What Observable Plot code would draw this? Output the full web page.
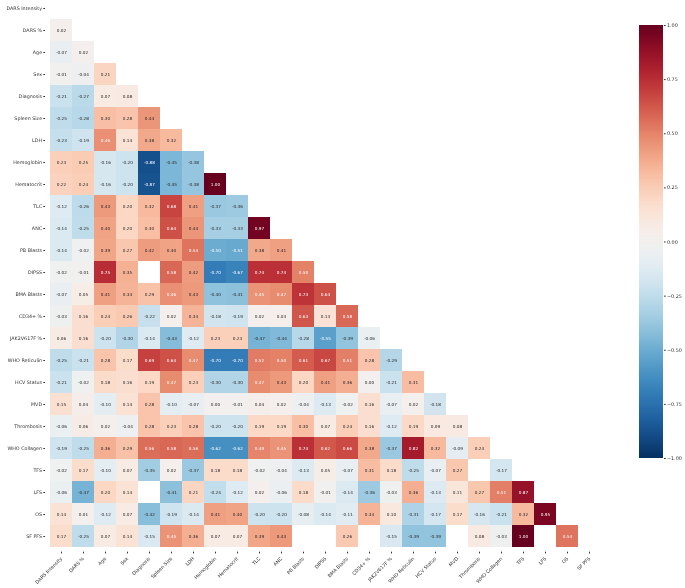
<!DOCTYPE html>
<html>
<head>
<meta charset="utf-8">
<script src="https://cdn.jsdelivr.net/npm/d3@7"></script>
<script src="https://cdn.jsdelivr.net/npm/@observablehq/plot@0.6"></script>
<style>
  html, body { margin: 0; padding: 0; background: #fff; }
  #wrap { position: relative; width: 685px; height: 588px; overflow: hidden; font-family: "DejaVu Sans", sans-serif; }
  #main { position: absolute; left: 0; top: 0; will-change: transform; }
  #cbar { position: absolute; left: 600px; top: 0; will-change: transform; }
  svg { overflow: visible; }
</style>
</head>
<body>
<div id="wrap"><div id="main"></div><div id="cbar"></div></div>
<script>
// Variable names (rows and columns of the correlation matrix)
const labels = ["DARS Intensity","DARS %","Age","Sex","Diagnosis","Spleen Size","LDH","Hemoglobin","Hematocrit","TLC","ANC","PB Blasts","DIPSS","BMA Blasts","CD34+ %","JAK2V617F %","WHO Reticulin","HCV Status","MVD","Thrombosis","WHO Collagen","TFS","LFS","OS","SF PFS"];

// Lower-triangle correlations, one array per row (null = blank cell)
const rowDARSpct      = [0.02];
const rowAge          = [-0.07, 0.02];
const rowSex          = [-0.01, -0.04, 0.21];
const rowDiagnosis    = [-0.21, -0.27, 0.07, 0.08];
const rowSpleen       = [-0.25, -0.28, 0.30, 0.28, 0.44];
const rowLDH          = [-0.23, -0.19, 0.46, 0.14, 0.38, 0.32];
const rowHemoglobin   = [0.23, 0.25, -0.16, -0.20, -0.88, -0.45, -0.38];
const rowHematocrit   = [0.22, 0.24, -0.16, -0.20, -0.87, -0.45, -0.38, 1.00];
const rowTLC          = [-0.12, -0.26, 0.43, 0.20, 0.32, 0.68, 0.41, -0.37, -0.36];
const rowANC          = [-0.14, -0.25, 0.40, 0.20, 0.30, 0.64, 0.44, -0.33, -0.33, 0.97];
const rowPBBlasts     = [-0.14, -0.02, 0.39, 0.27, 0.42, 0.40, 0.54, -0.50, -0.51, 0.38, 0.41];
const rowDIPSS        = [-0.02, -0.01, 0.75, 0.35, null, 0.58, 0.42, -0.70, -0.67, 0.74, 0.74, 0.50];
const rowBMABlasts    = [-0.07, 0.05, 0.41, 0.34, 0.29, 0.46, 0.43, -0.40, -0.41, 0.45, 0.47, 0.73, 0.64];
const rowCD34         = [-0.03, 0.16, 0.24, 0.26, -0.22, 0.02, 0.34, -0.18, -0.19, 0.02, 0.03, 0.63, 0.13, 0.58];
const rowJAK2         = [0.06, 0.16, -0.20, -0.30, -0.14, -0.43, -0.12, 0.23, 0.23, -0.47, -0.44, -0.28, -0.55, -0.39, -0.06];
const rowWHORet       = [-0.25, -0.21, 0.28, 0.17, 0.69, 0.64, 0.47, -0.70, -0.70, 0.52, 0.50, 0.61, 0.67, 0.51, 0.28, -0.29];
const rowHCV          = [-0.21, -0.02, 0.18, 0.16, 0.19, 0.47, 0.23, -0.30, -0.30, 0.47, 0.43, 0.20, 0.41, 0.36, 0.00, -0.21, 0.31];
const rowMVD          = [0.15, 0.04, -0.10, 0.14, 0.28, -0.10, -0.07, 0.00, -0.01, 0.04, 0.02, -0.04, -0.13, -0.02, 0.16, -0.07, 0.02, -0.18];
const rowThrombosis   = [-0.06, 0.06, 0.02, -0.04, 0.28, 0.23, 0.28, -0.20, -0.20, 0.19, 0.19, 0.30, 0.07, 0.24, 0.16, -0.12, 0.19, 0.09, 0.08];
const rowWHOColl      = [-0.19, -0.25, 0.36, 0.29, 0.56, 0.58, 0.56, -0.62, -0.62, 0.49, 0.45, 0.74, 0.62, 0.66, 0.38, -0.37, 0.82, 0.32, -0.09, 0.24];
const rowTFS          = [-0.02, 0.17, -0.10, 0.07, -0.35, 0.02, -0.37, 0.18, 0.18, -0.02, -0.04, -0.13, 0.05, -0.07, 0.31, 0.18, -0.25, -0.07, 0.27, null, -0.17];
const rowLFS          = [-0.06, -0.47, 0.20, 0.14, null, -0.41, 0.21, -0.24, -0.12, 0.02, -0.06, 0.18, -0.01, -0.14, -0.36, -0.03, 0.36, -0.13, 0.11, 0.27, 0.51, 0.87];
const rowOS           = [0.14, 0.01, -0.12, 0.07, -0.42, -0.19, -0.14, 0.41, 0.40, -0.20, -0.20, -0.08, -0.14, -0.11, 0.34, 0.10, -0.31, -0.17, 0.17, -0.16, -0.21, 0.32, 0.95];
const rowSFPFS        = [0.17, -0.25, 0.07, 0.14, -0.15, 0.45, 0.36, 0.07, 0.07, 0.39, 0.43, null, null, 0.26, null, -0.15, -0.39, -0.39, null, 0.08, -0.03, 1.00, null, 0.54];

// Colorbar tick values
const cbarTicks = [-1, -0.75, -0.5, -0.25, 0, 0.25, 0.5, 0.75, 1];

const rows = [rowDARSpct,rowAge,rowSex,rowDiagnosis,rowSpleen,rowLDH,rowHemoglobin,rowHematocrit,rowTLC,rowANC,rowPBBlasts,rowDIPSS,rowBMABlasts,rowCD34,rowJAK2,rowWHORet,rowHCV,rowMVD,rowThrombosis,rowWHOColl,rowTFS,rowLFS,rowOS,rowSFPFS];

const cells = [];
rows.forEach((vals, i) => vals.forEach((v, j) => {
  if (v !== null) cells.push({row: labels[i + 1], col: labels[j], v});
}));

const colorOpts = {type: "linear", domain: [-1, 1], scheme: "rdbu", reverse: true};
const colorScale = Plot.scale({color: colorOpts});

function relLum(c) {
  const rgb = d3.rgb(c);
  const lin = x => { x /= 255; return x <= 0.03928 ? x / 12.92 : Math.pow((x + 0.055) / 1.055, 2.4); };
  return 0.2126 * lin(rgb.r) + 0.7152 * lin(rgb.g) + 0.0722 * lin(rgb.b);
}
const textColor = d => relLum(colorScale.apply(d.v)) > 0.408 ? "#262626" : "#ffffff";

const W = 685, H = 588;
const chart = Plot.plot({
  width: W,
  height: H,
  marginLeft: 45,
  marginRight: 80,
  marginTop: 0,
  marginBottom: 36.3,
  style: {fontFamily: "DejaVu Sans, sans-serif", background: "transparent", overflow: "visible"},
  x: {domain: labels, range: [45, 605], padding: 0},
  y: {domain: labels, range: [-8.1, 551.7], padding: 0},
  color: colorOpts,
  marks: [
    Plot.cell(cells, {x: "col", y: "row", fill: "v", inset: 0}),
    Plot.text(cells, {x: "col", y: "row", text: d => d.v.toFixed(2), fill: textColor, fontSize: 4.2}),
    Plot.axisX({anchor: "bottom", tickRotate: -45, tickSize: 1.7, tickPadding: 4, fontSize: 4.8, label: null, stroke: "#333", fill: "#333333"}),
    Plot.axisY({anchor: "left", tickSize: 1.7, tickPadding: 1.7, fontSize: 4.8, label: null, stroke: "#333", fill: "#333333"})
  ]
});
document.getElementById("main").appendChild(chart);

// Colorbar (continuous ramp of the same colour scale)
const ramp = d3.range(216);
const step = 2 / ramp.length;
const cbar = Plot.plot({
  width: 85,
  height: H,
  marginLeft: 39,
  marginRight: 22,
  marginTop: 25,
  marginBottom: H - 458,
  style: {fontFamily: "DejaVu Sans, sans-serif", background: "transparent", overflow: "visible"},
  x: {domain: [0, 1], axis: null},
  y: {domain: [-1, 1]},
  color: colorOpts,
  marks: [
    Plot.rect(ramp, {
      x1: 0, x2: 1,
      y1: i => -1 + i * step,
      y2: i => Math.min(1, -1 + (i + 1) * step + step * 0.6),
      fill: i => -1 + (i + 0.5) * step,
      shapeRendering: "crispEdges"
    }),
    Plot.axisY({anchor: "right", ticks: cbarTicks, tickFormat: d3.format(".2f"), tickSize: 1.7, tickPadding: 1.7, fontSize: 4.9, label: null, stroke: "#333", fill: "#333333"})
  ]
});
document.getElementById("cbar").appendChild(cbar);
</script>
</body>
</html>
